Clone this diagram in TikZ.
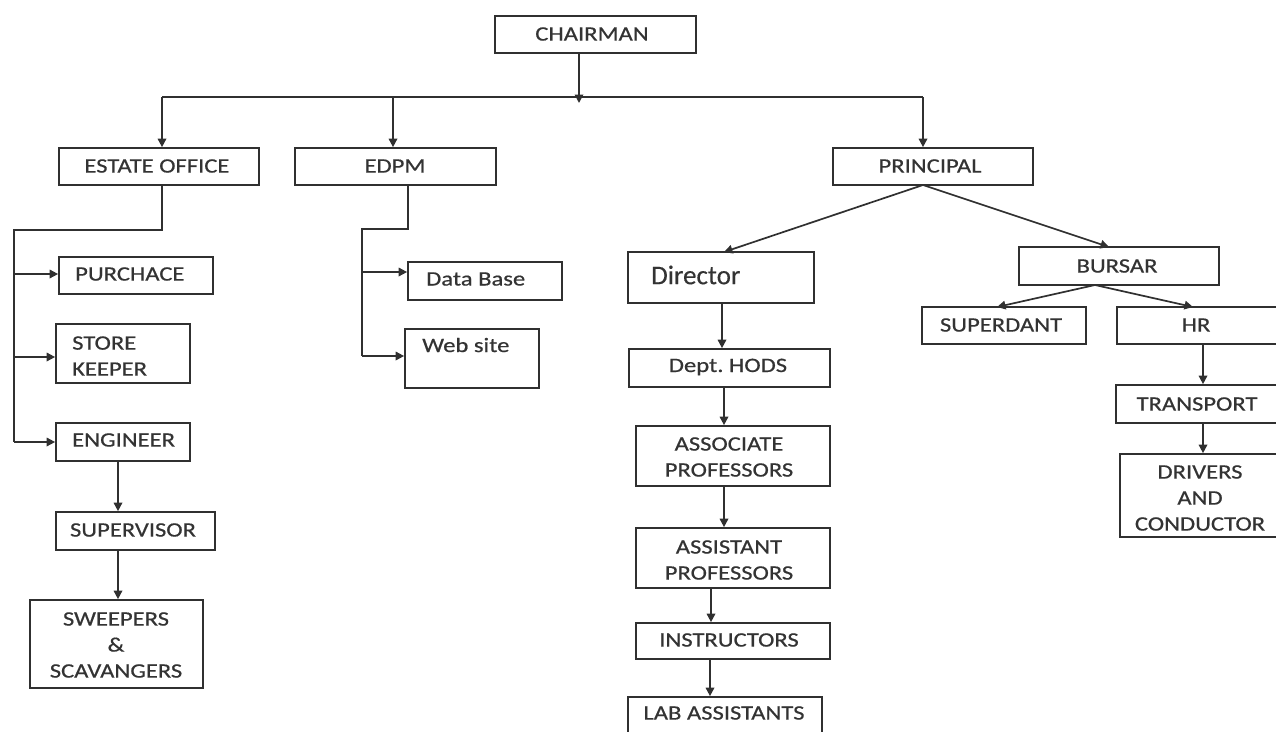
\documentclass[tikz,border=0pt]{standalone}
\usepackage{fontspec}
\setmainfont{Carlito}
\newfontfamily\boxfont[FakeStretch=1.2,FakeBold=0.6]{Carlito}
\newfontfamily\dirfont[FakeBold=0.3]{Carlito}
\usetikzlibrary{arrows.meta,fit}
\definecolor{ink}{HTML}{303030}
\definecolor{txtc}{HTML}{333333}
\tikzset{
  box/.style={draw=ink, line width=1.7pt, inner sep=0pt, rectangle},
  lbl/.style={text=txtc, font=\boxfont\fontsize{20.5}{26}\selectfont, align=center, inner sep=0pt},
  lblleft/.style={lbl, anchor=west, align=left},
  conn/.style={draw=ink, line width=1.7pt},
  arr/.style={conn, -{Triangle[length=8.5pt,width=8.5pt]}},
}
\begin{document}
\begin{tikzpicture}[x=1pt,y=-1pt]
\useasboundingbox (0,0) rectangle (1276,731);
% boxes
\node[box, fit={(495,16) (696,53)}] (ch) {};
\node[lbl] (tch) at (592,34) {CHAIRMAN};
\node[box, fit={(59,148) (259,185)}] (eo) {};
\node[lbl] (teo) at (157,166) {ESTATE OFFICE};
\node[box, fit={(295,148) (496,185)}] (ed) {};
\node[lbl] (ted) at (395,166) {EDPM};
\node[box, fit={(833,148) (1033,185)}] (pr) {};
\node[lbl] (tpr) at (930,166) {PRINCIPAL};
% estate office children
\node[box, fit={(59,257) (213,294)}] (pu) {};
\node[lblleft] (tpu) at (75,274) {PURCHACE};
\node[box, fit={(56,324) (190,383)}] (sk) {};
\node[lblleft] (tsk) at (72,356) {STORE\\KEEPER};
\node[box, fit={(56,423) (190,461)}] (en) {};
\node[lblleft] (ten) at (72,440) {ENGINEER};
\node[box, fit={(56,512) (215,550)}] (su) {};
\node[lbl] (tsu) at (133,530) {SUPERVISOR};
\node[box, fit={(30,600) (203,688)}] (sw) {};
\node[lbl] (tsw) at (116,645) {SWEEPERS\\\&\\SCAVANGERS};
% edpm children
\node[box, fit={(408,262) (562,300)}] (db) {};
\node[lblleft] (tdb) at (426,279) {Data Base};
\node[box, fit={(405,329) (539,388)}] (ws) {};
\node[lblleft] (tws) at (422,345) {Web site};
% principal children
\node[box, fit={(628,252) (814,303)}] (di) {};
\node[text=txtc, font=\dirfont\fontsize{27}{30}\selectfont, anchor=west, inner sep=0pt] (tdi) at (651,275) {Director};
\node[box, fit={(629,349) (830,387)}] (ho) {};
\node[lbl] (tho) at (728,367) {Dept.\ HODS};
\node[box, fit={(636,426) (830,486)}] (as) {};
\node[lbl] (tas) at (729,457) {ASSOCIATE\\PROFESSORS};
\node[box, fit={(636,528) (830,588)}] (ap) {};
\node[lbl] (tap) at (729,560) {ASSISTANT\\PROFESSORS};
\node[box, fit={(636,623) (830,659)}] (in) {};
\node[lbl] (tin) at (729,640) {INSTRUCTORS};
\node[box, fit={(628,697) (822,740)}] (la) {};
\node[lbl] (tla) at (724,713) {LAB ASSISTANTS};
\node[box, fit={(1019,247) (1219,285)}] (bu) {};
\node[lbl] (tbu) at (1117,266) {BURSAR};
\node[box, fit={(922,307) (1086,344)}] (sd) {};
\node[lbl] (tsd) at (1001,325) {SUPERDANT};
\node[box, fit={(1117,307) (1282,344)}] (hr) {};
\node[lbl] (thr) at (1196,325) {HR};
\node[box, fit={(1116,385) (1282,423)}] (tr) {};
\node[lbl] (ttr) at (1197,404) {TRANSPORT};
\node[box, fit={(1120,454) (1282,537)}] (dr) {};
\node[lbl] (tdr) at (1200,498) {DRIVERS\\AND\\CONDUCTOR};
% bus from chairman
\coordinate (chs) at (579,53);
\coordinate (busm) at (579,103);
\coordinate (busl) at (162,97);
\coordinate (busr) at (923,97);
\draw[arr] (chs) -- (busm);
\draw[conn] (busl) -- (busr);
\draw[arr] (busl) -- (busl |- eo.north);
\draw[arr] (393,97) coordinate (busd) -- (busd |- ed.north);
\draw[arr] (busr) -- (busr |- pr.north);
% estate office tree
\coordinate (eob) at (162,185);
\coordinate (eo1) at (162,230);
\coordinate (eo2) at (14,230);
\coordinate (eo3) at (14,442);
\draw[conn] (eob) -- (eo1) -- (eo2) -- (eo3);
\draw[arr] (14,274) coordinate (t1) -- (t1 -| pu.west);
\draw[arr] (14,357) coordinate (t2) -- (t2 -| sk.west);
\draw[arr] (eo3) -- (eo3 -| en.west);
\draw[arr] (118,461) coordinate (t3) -- (t3 |- su.north);
\draw[arr] (118,550) coordinate (t4) -- (t4 |- sw.north);
% edpm tree
\coordinate (edb) at (408,185);
\coordinate (ed1) at (408,229);
\coordinate (ed2) at (362,229);
\coordinate (ed3) at (362,356);
\draw[conn] (edb) -- (ed1) -- (ed2) -- (ed3);
\draw[arr] (362,272) coordinate (t5) -- (t5 -| db.west);
\draw[arr] (ed3) -- (ed3 -| ws.west);
% principal tree
\coordinate (prb) at (923,185);
\draw[arr] (prb) -- (724,252);
\draw[arr] (prb) -- (1109,247);
\draw[arr] (722,303) coordinate (t6) -- (t6 |- ho.north);
\draw[arr] (724,387) coordinate (t7) -- (t7 |- as.north);
\draw[arr] (724,486) coordinate (t8) -- (t8 |- ap.north);
\draw[arr] (711,588) coordinate (t9) -- (t9 |- in.north);
\draw[arr] (710,659) coordinate (t10) -- (t10 |- la.north);
% bursar tree
\coordinate (bub) at (1095,285);
\draw[arr] (bub) -- (997,307);
\draw[arr] (bub) -- (1193,307);
\draw[arr] (1203,344) coordinate (t11) -- (t11 |- tr.north);
\draw[arr] (1203,423) coordinate (t12) -- (t12 |- dr.north);
\end{tikzpicture}
\end{document}
